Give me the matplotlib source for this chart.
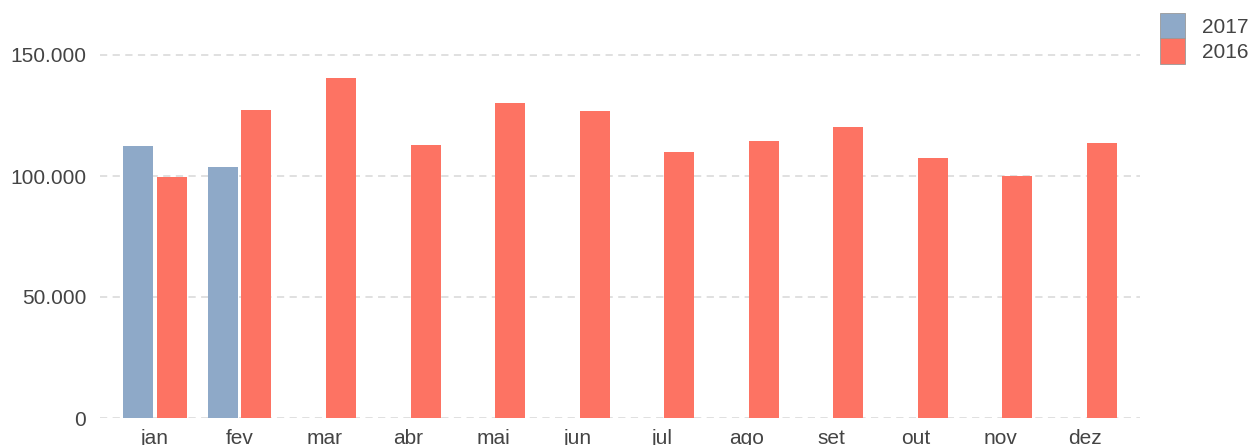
import matplotlib
matplotlib.use("Agg")
import matplotlib.pyplot as plt
import numpy as np

# data
months = ["jan", "fev", "mar", "abr", "mai", "jun", "jul", "ago", "set", "out", "nov", "dez"]
vals_2017 = [112300, 103700]
vals_2016 = [99700, 127200, 140500, 112700, 130200, 126800, 109800, 114400, 120200, 107300, 99900, 113600]
yticks = [0, 50000, 100000, 150000]
ytick_labels = ["0", "50.000", "100.000", "150.000"]

c2017 = "#8EA9C8"
c2016 = "#FD7363"
txt = "#444444"

plt.rcParams["font.family"] = ["Liberation Sans", "DejaVu Sans"]

fig = plt.figure(figsize=(12.5, 4.45), dpi=100)
ax = fig.add_axes([0.08, 27 / 445, 0.832, 418 / 445])

x = np.arange(len(months))
w = 0.355
off = 0.2
ax.bar(x[:len(vals_2017)] - off, vals_2017, width=w, color=c2017, label="2017", zorder=3)
ax.bar(x + off, vals_2016, width=w, color=c2016, label="2016", zorder=3)

ax.set_xlim(-0.65, 11.65)
ax.set_ylim(0, 418 / 121 * 50000)
ax.set_yticks(yticks)
ax.set_yticklabels(ytick_labels)
ax.set_xticks(x)
ax.set_xticklabels(months)
ax.tick_params(axis="both", length=0, labelsize=15, colors=txt)
ax.tick_params(axis="y", pad=10)
ax.tick_params(axis="x", pad=8)

ax.yaxis.grid(True, linestyle=(0, (4, 3)), color="#DDDDDD", linewidth=1.3, zorder=0)
for s in ax.spines.values():
    s.set_visible(False)

leg = fig.legend(loc="upper left", bbox_to_anchor=(1160 / 1250, 1 - 13 / 445),
                 frameon=False, fontsize=15, handlelength=1.2, handleheight=1.5,
                 labelspacing=0, handletextpad=0.8, borderpad=0, borderaxespad=0)
for t in leg.get_texts():
    t.set_color(txt)
for p in leg.get_patches():
    p.set_edgecolor("#999999")
    p.set_linewidth(0.6)

fig.savefig("out.png", dpi=100)
